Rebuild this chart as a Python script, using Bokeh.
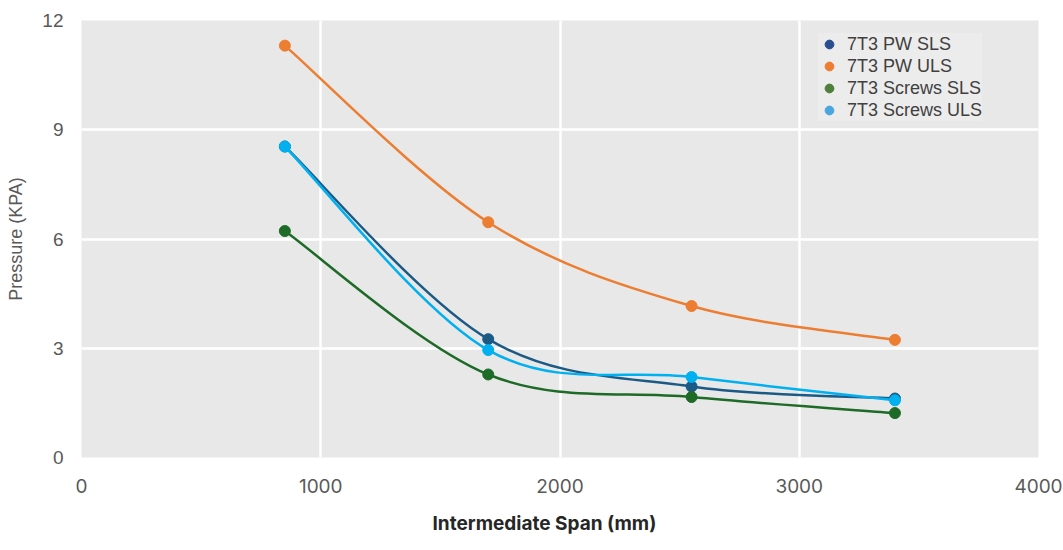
import numpy as np
from bokeh.plotting import figure
from bokeh.models import FixedTicker, Legend, LegendItem, ColumnDataSource, Title
from bokeh.embed import file_html
from bokeh.resources import INLINE

# ---- data ----
span_mm = [850, 1700, 2550, 3400]
pw_sls = [8.54, 3.25, 1.95, 1.62]
pw_uls = [11.31, 6.46, 4.16, 3.23]
screws_sls = [6.22, 2.28, 1.66, 1.22]
screws_uls = [8.54, 2.95, 2.21, 1.57]

series_names = ["7T3 PW SLS", "7T3 PW ULS", "7T3 Screws SLS", "7T3 Screws ULS"]
series_values = [pw_sls, pw_uls, screws_sls, screws_uls]
line_colors = ["#1b5a84", "#ed7d31", "#1d6b27", "#00b0f0"]
legend_colors = ["#2b4f8e", "#ed7d31", "#4e7f3b", "#4aa6dc"]

x_ticks = [0, 1000, 2000, 3000, 4000]
y_ticks = [0, 3, 6, 9, 12]
x_title = "Intermediate Span (mm)"
y_title = "Pressure (KPA)"

LABEL_FONT = "Liberation Sans"
X_FONT = "Inter"

p = figure(width=1063, height=550, x_range=(0, 4000), y_range=(0, 12),
           output_backend="svg", toolbar_location=None,
           min_border_left=81, min_border_right=25, min_border_top=20, min_border_bottom=93)
p.background_fill_color = "#e8e8e8"
p.border_fill_color = "white"
p.outline_line_color = None

p.xgrid.ticker = FixedTicker(ticks=x_ticks)
p.ygrid.ticker = FixedTicker(ticks=y_ticks)
p.xaxis.ticker = FixedTicker(ticks=x_ticks)
p.yaxis.ticker = FixedTicker(ticks=y_ticks)
for g in (p.xgrid, p.ygrid):
    g.grid_line_color = "white"
    g.grid_line_width = 2.5

for ax in (p.xaxis, p.yaxis):
    ax.axis_line_color = None
    ax.major_tick_line_color = None
    ax.minor_tick_line_color = None
    ax.major_label_text_color = "#595959"

p.yaxis.major_label_text_font = LABEL_FONT
p.yaxis.major_label_text_font_size = "19px"
p.yaxis.major_label_standoff = 12
p.yaxis.axis_label = y_title
p.yaxis.axis_label_text_font = LABEL_FONT
p.yaxis.axis_label_text_font_style = "normal"
p.yaxis.axis_label_text_font_size = "18px"
p.yaxis.axis_label_text_color = "#595959"
p.yaxis.axis_label_standoff = 13

p.xaxis.major_label_text_font = X_FONT
p.xaxis.major_label_text_font_size = "19px"
p.xaxis.major_label_standoff = 15

# x-axis title as a below-panel title, offset slightly left of centre as in the original
xt = Title(text=x_title, align="left", offset=351, standoff=28,
           text_font=X_FONT, text_font_style="bold", text_font_size="19px",
           text_color="#262626")
p.add_layout(xt, "below")


def smooth_segments(xs, ys):
    xs = np.asarray(xs, float)
    ys = np.asarray(ys, float)
    px = np.concatenate([[xs[0]], xs, [xs[-1]]])
    py = np.concatenate([[ys[0]], ys, [ys[-1]]])
    n = len(xs) - 1
    d = {"x0": [], "y0": [], "x1": [], "y1": [], "cx0": [], "cy0": [], "cx1": [], "cy1": []}
    for i in range(n):
        p0x, p0y = px[i], py[i]
        p1x, p1y = px[i + 1], py[i + 1]
        p2x, p2y = px[i + 2], py[i + 2]
        p3x, p3y = px[i + 3], py[i + 3]
        d["x0"].append(p1x); d["y0"].append(p1y)
        d["x1"].append(p2x); d["y1"].append(p2y)
        d["cx0"].append(p1x + (p2x - p0x) / 6); d["cy0"].append(p1y + (p2y - p0y) / 6)
        d["cx1"].append(p2x - (p3x - p1x) / 6); d["cy1"].append(p2y - (p3y - p1y) / 6)
    return d


items = []
for name, vals, lc, gc in zip(series_names, series_values, line_colors, legend_colors):
    # legend-coloured marker, hidden under the series marker (used for the legend swatch)
    swatch = p.scatter(span_mm, vals, size=9, fill_color=gc, line_color=gc)
    seg = ColumnDataSource(smooth_segments(span_mm, vals))
    p.bezier(x0="x0", y0="y0", x1="x1", y1="y1", cx0="cx0", cy0="cy0", cx1="cx1", cy1="cy1",
             source=seg, line_color=lc, line_width=2.5)
    p.scatter(span_mm, vals, size=11, fill_color=lc, line_color=lc)
    items.append(LegendItem(label=name, renderers=[swatch]))

legend = Legend(items=items, location=(737, 336))
legend.background_fill_color = "#ececec"
legend.background_fill_alpha = 1.0
legend.border_line_color = None
legend.label_text_font = LABEL_FONT
legend.label_text_font_size = "18px"
legend.label_text_color = "#404040"
legend.spacing = 0
legend.glyph_width = 22
legend.glyph_height = 22
legend.label_standoff = 7
legend.label_height = 20
legend.padding = 8
p.add_layout(legend)

open("out.html", "w").write(file_html(p, INLINE))
